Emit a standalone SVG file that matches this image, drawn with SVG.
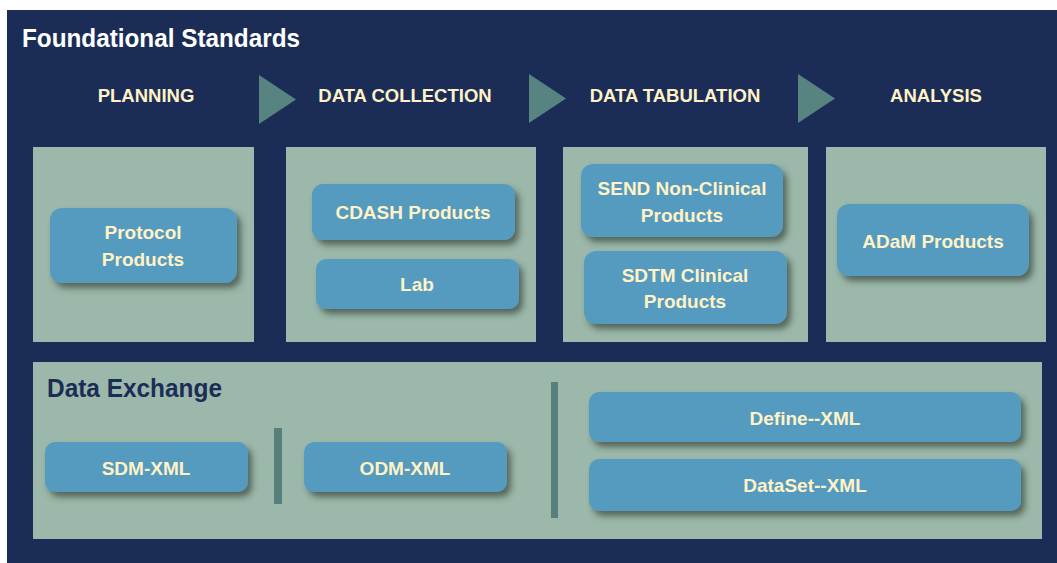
<svg xmlns="http://www.w3.org/2000/svg" width="1057" height="563" viewBox="0 0 1057 563">
<style>
.t{font-family:"Liberation Sans",Arial,sans-serif;font-weight:bold;fill:#FFF2C6;text-anchor:middle}
.h{font-size:18.5px}
.b{font-size:19px}
.panel{fill:#9BB8AA}
.box{fill:#559BBF;filter:url(#sh)}
.tri{fill:#578480}
.sep{fill:#577F7E}
</style>
<defs>
<filter id="sh" x="-10%" y="-20%" width="130%" height="160%">
<feDropShadow dx="4" dy="5" stdDeviation="3" flood-color="#2E3B33" flood-opacity="0.65"/>
</filter>
</defs>
<rect x="0" y="0" width="1057" height="563" fill="#ffffff"/>
<rect x="7" y="10" width="1050" height="553" fill="#1B2D57"/>
<text x="22" y="47" font-family="Liberation Sans, Arial, sans-serif" font-weight="bold" font-size="26" fill="#ffffff" textLength="278" lengthAdjust="spacingAndGlyphs">Foundational Standards</text>

<g id="headers">
<text class="t h" x="146" y="102">PLANNING</text>
<text class="t h" x="405" y="102">DATA COLLECTION</text>
<text class="t h" x="675" y="102">DATA TABULATION</text>
<text class="t h" x="936" y="102">ANALYSIS</text>
</g>
<g id="connectors">
<polygon class="tri" points="259,75 296,99.5 259,124"/>
<polygon class="tri" points="529,74 566,98.5 529,123"/>
<polygon class="tri" points="798,74 835,98.5 798,123"/>
</g>

<g id="planning">
<rect class="panel" x="33" y="147" width="221" height="195"/>
<g id="protocol">
<rect class="box" x="50" y="208" width="187" height="75" rx="12"/>
<text class="t b" x="143" y="239">Protocol</text>
<text class="t b" x="143" y="266">Products</text>
</g>
</g>
<g id="collection">
<rect class="panel" x="286" y="147" width="250" height="195"/>
<g id="cdash">
<rect class="box" x="312" y="184" width="203" height="56" rx="11"/>
<text class="t b" x="413" y="219">CDASH Products</text>
</g>
<g id="lab">
<rect class="box" x="316" y="259" width="203" height="50" rx="10"/>
<text class="t b" x="417" y="291">Lab</text>
</g>
</g>
<g id="tabulation">
<rect class="panel" x="563" y="147" width="245" height="195"/>
<g id="send">
<rect class="box" x="581" y="164" width="202" height="73" rx="12"/>
<text class="t b" x="682" y="195">SEND Non-Clinical</text>
<text class="t b" x="682" y="222">Products</text>
</g>
<g id="sdtm">
<rect class="box" x="584" y="251" width="203" height="73" rx="12"/>
<text class="t b" x="685" y="282">SDTM Clinical</text>
<text class="t b" x="685" y="308">Products</text>
</g>
</g>
<g id="analysis">
<rect class="panel" x="826" y="147" width="220" height="195"/>
<g id="adam">
<rect class="box" x="837" y="204" width="192" height="72" rx="12"/>
<text class="t b" x="933" y="248">ADaM Products</text>
</g>
</g>

<g id="exchange">
<rect class="panel" x="33" y="362" width="1009" height="177"/>
<text x="47" y="397" font-family="Liberation Sans, Arial, sans-serif" font-weight="bold" font-size="25" fill="#1B2D57" textLength="175" lengthAdjust="spacingAndGlyphs">Data Exchange</text>
<rect class="sep" x="274" y="428" width="8" height="76"/>
<rect class="sep" x="551" y="382" width="7" height="136"/>
<g id="sdm">
<rect class="box" x="45" y="442" width="203" height="50" rx="10"/>
<text class="t b" x="146" y="475">SDM-XML</text>
</g>
<g id="odm">
<rect class="box" x="304" y="442" width="203" height="50" rx="10"/>
<text class="t b" x="405" y="475">ODM-XML</text>
</g>
<g id="define">
<rect class="box" x="589" y="392" width="432" height="50" rx="10"/>
<text class="t b" x="805" y="425">Define--XML</text>
</g>
<g id="dataset">
<rect class="box" x="589" y="459" width="432" height="52" rx="10"/>
<text class="t b" x="805" y="492">DataSet--XML</text>
</g>
</g>
</svg>
